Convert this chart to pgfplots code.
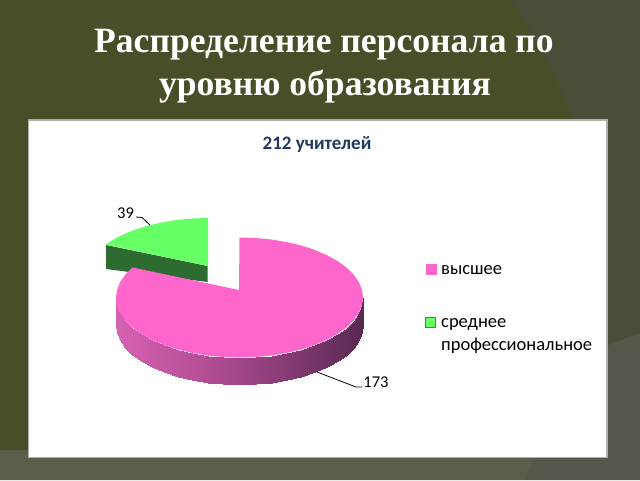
\documentclass[border=0pt]{standalone}
\usepackage{fontspec}
\setmainfont{Liberation Serif}
\newfontfamily\calibri{Carlito}
\usepackage{pgfplots}
\pgfplotsset{compat=1.18}
\definecolor{olive}{RGB}{74,78,40}
\definecolor{greyzone}{RGB}{75,77,57}
\definecolor{lowband}{RGB}{90,93,72}
\definecolor{lowright}{RGB}{85,87,74}
\definecolor{pinkpie}{RGB}{255,102,204}
\definecolor{greenpie}{RGB}{102,255,102}
\definecolor{greenside}{RGB}{46,107,48}
\definecolor{heading}{RGB}{31,56,100}
\begin{document}
\begin{tikzpicture}
\begin{axis}[
    scale only axis, width=640pt, height=480pt,
    xmin=0, xmax=640, ymin=0, ymax=480,
    y dir=reverse, hide axis,
    point meta min=116, point meta max=363,
    colormap={side}{rgb255(0cm)=(214,98,178); rgb255(2cm)=(176,76,146); rgb255(4cm)=(118,52,104); rgb255(5cm)=(88,40,80)},
]
% slide background
\addplot[fill=olive, draw=none] coordinates {(0,0) (640,0) (640,480) (0,480)} -- cycle;
\addplot[fill=greyzone, draw=none] coordinates {(512,0) (528,25) (543,50) (556,78) (566,102) (574,122) (607,345) (640,333) (640,0)} -- cycle;
\addplot[fill=lowright, draw=none] coordinates {(600,348) (640,333) (640,480) (523,480) (538,457)} -- cycle;
\addplot[fill=lowband, draw=none] coordinates {(0,450) (30,450) (30,457) (538,457) (523,480) (0,480)} -- cycle;
% white panel
\addplot[fill=white, draw={rgb,255:red,176;green,176;blue,170}, line width=1.2pt] coordinates {(28.5,120) (607,120) (607,457.5) (28.5,457.5)} -- cycle;
% green slice (39)
\addplot[fill=greenside, draw=none] coordinates {(106,245) (106,269) (207.5,282) (207.5,266)} -- cycle;
\addplot[fill=greenpie, draw=none] coordinates {(208,266) (208,218) (191.9,218.5) (176.0,220.0) (160.7,222.6) (146.2,226.0) (132.8,230.4) (120.7,235.6) (110.0,241.5) (106,244.5)} -- cycle;
% pink slice (173): wall, then top
\addplot[surf, shader=interp, mesh/rows=2, point meta=x] coordinates {
(116.0,297.5) (117.1,305.3) (120.2,313.0) (125.4,320.5) (132.5,327.5) (141.5,334.0) (152.2,339.9) (164.3,345.1) (177.7,349.5) (192.2,352.9) (207.5,355.5) (223.4,357.0) (239.5,357.5) (255.6,357.0) (271.5,355.5) (286.8,352.9) (301.3,349.5) (314.7,345.1) (326.8,339.9) (337.5,334.0) (346.5,327.5) (353.6,320.5) (358.8,313.0) (361.9,305.3) (363.0,297.5)
(116.0,324.5) (117.1,332.3) (120.2,340.0) (125.4,347.5) (132.5,354.5) (141.5,361.0) (152.2,366.9) (164.3,372.1) (177.7,376.5) (192.2,379.9) (207.5,382.5) (223.4,384.0) (239.5,384.5) (255.6,384.0) (271.5,382.5) (286.8,379.9) (301.3,376.5) (314.7,372.1) (326.8,366.9) (337.5,361.0) (346.5,354.5) (353.6,347.5) (358.8,340.0) (361.9,332.3) (363.0,324.5)
};
\addplot[fill=pinkpie, draw=none] coordinates {(239,290) (239.5,237.5) (255.6,238.0) (271.5,239.5) (286.8,242.1) (301.3,245.5) (314.7,249.9) (326.8,255.1) (337.5,261.0) (346.5,267.5) (353.6,274.5) (358.8,282.0) (361.9,289.7) (363.0,297.5) (361.9,305.3) (358.8,313.0) (353.6,320.5) (346.5,327.5) (337.5,334.0) (326.8,339.9) (314.7,345.1) (301.3,349.5) (286.8,352.9) (271.5,355.5) (255.6,357.0) (239.5,357.5) (223.4,357.0) (207.5,355.5) (192.2,352.9) (177.7,349.5) (164.3,345.1) (152.2,339.9) (141.5,334.0) (132.5,327.5) (125.4,320.5) (120.2,313.0) (117.1,305.3) (116.0,297.5) (117.1,289.7) (120.2,282.0) (125.4,274.5) (132.5,267.5)} -- cycle;
% leader lines
\addplot[black, line width=0.8pt] coordinates {(136,217) (142,217.5) (150,225)};
\addplot[black, line width=0.8pt] coordinates {(317,372) (356,387) (362,387)};
% legend keys
\addplot[only marks, mark=square*, mark size=4.7pt, mark options={fill=pinkpie, draw=pinkpie}] coordinates {(431,269)};
\addplot[only marks, mark=square*, mark size=4.7pt, mark options={fill=greenpie, draw={rgb,255:red,70;green,120;blue,170}, line width=0.8pt}] coordinates {(430.5,322.5)};
% text
\node[anchor=base, white, font=\fontsize{35.6}{36}\selectfont\bfseries] at (axis cs:324,52.7) {Распределение персонала по};
\node[anchor=base, white, font=\fontsize{35.6}{36}\selectfont\bfseries] at (axis cs:325,95.5) {уровню образования};
\node[anchor=base, heading, font=\calibri\fontsize{19}{19}\selectfont\bfseries] at (axis cs:317,149) {212 учителей};
\node[anchor=base, font=\calibri\fontsize{16.5}{16.5}\selectfont] at (axis cs:125.5,218) {39};
\node[anchor=base, font=\calibri\fontsize{16.5}{16.5}\selectfont] at (axis cs:376,387) {173};
\node[anchor=base west, inner sep=0pt, font=\calibri\fontsize{18.5}{18.5}\selectfont] at (axis cs:441,274) {высшее};
\node[anchor=base west, inner sep=0pt, font=\calibri\fontsize{18.5}{18.5}\selectfont] at (axis cs:441,327.7) {среднее};
\node[anchor=base west, inner sep=0pt, font=\calibri\fontsize{18.5}{18.5}\selectfont] at (axis cs:441,350) {профессиональное};
\end{axis}
\end{tikzpicture}
\end{document}
